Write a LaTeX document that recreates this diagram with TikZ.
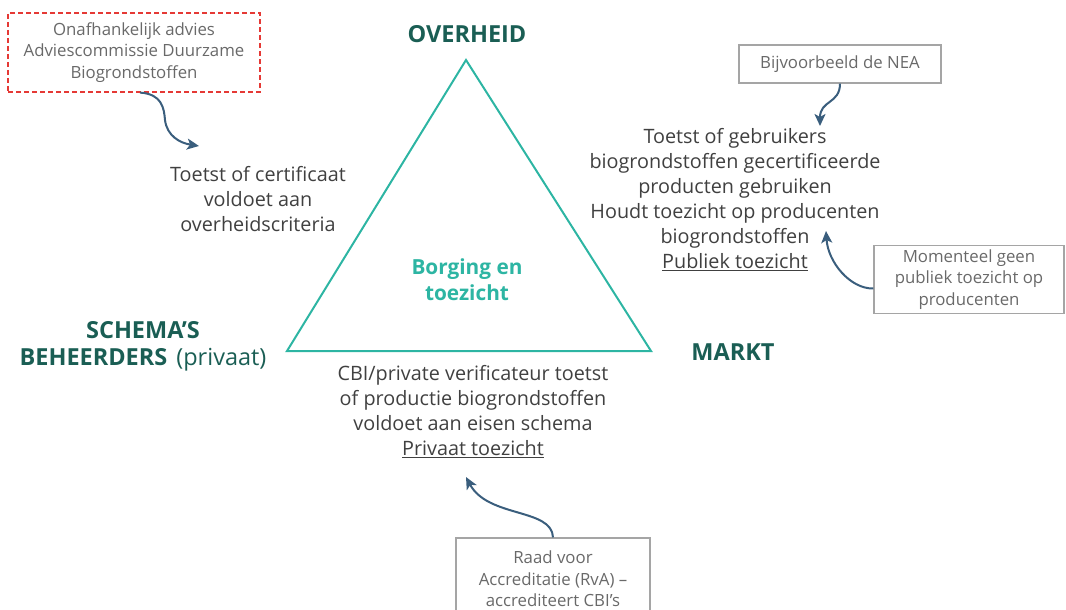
\documentclass[tikz,border=0pt]{standalone}
\usepackage{fontspec}
\setmainfont{Open Sans}
\usetikzlibrary{arrows.meta}

\definecolor{titelgroen}{RGB}{26,94,84}
\definecolor{driehoek}{RGB}{45,181,163}
\definecolor{tekstgrijs}{RGB}{64,64,64}
\definecolor{kadergrijs}{RGB}{165,165,165}
\definecolor{kadertekst}{RGB}{105,105,105}
\definecolor{pijlblauw}{RGB}{58,94,125}
\definecolor{adviesrood}{RGB}{229,57,53}

\begin{document}
\begin{tikzpicture}[x=1pt, y=-1pt, >={Stealth[length=12pt, width=11pt, inset=3pt]},
    titel/.style={text=titelgroen, font=\fontsize{23.5}{27}\selectfont\bfseries, align=center},
    uitleg/.style={text=tekstgrijs, font=\fontsize{19.8}{25}\selectfont, align=center},
    kader/.style={draw=kadergrijs, line width=1.2pt, text=kadertekst,
        font=\fontsize{16.8}{21.5}\selectfont, align=center, inner sep=4pt},
    pijl/.style={->, draw=pijlblauw, line width=2pt}]
    \useasboundingbox (0,0) rectangle (1066,610);

    % Triangle
    \coordinate (top) at (466,60);
    \coordinate (links) at (287,351);
    \coordinate (rechts) at (651,351);
    \draw[driehoek, line width=2pt, line join=miter] (top) -- (links) -- (rechts) -- cycle;

    % Corner titles
    \node[titel] (overheid) at (467,34) {OVERHEID};
    \node[titel] (schema) at (143,346) {SCHEMA’S\\BEHEERDERS\hspace{9pt}\textmd{(privaat)}};
    \node[titel] (markt) at (733,352) {MARKT};
    \node[titel, text=driehoek, font=\fontsize{20.8}{26}\selectfont\bfseries] (borging) at (467,280) {Borging en\\toezicht};

    % Explanations
    \node[uitleg] (certificaat) at (258,199) {Toetst of certificaat\\voldoet aan\\overheidscriteria};
    \node[uitleg] (gebruikers) at (735,200) {Toetst of gebruikers\\biogrondstoffen gecertificeerde\\producten gebruiken\\Houdt toezicht op producenten\\biogrondstoffen\\\underline{Publiek toezicht}};
    \node[uitleg] (productie) at (473,412) {CBI/private verificateur toetst\\of productie biogrondstoffen\\voldoet aan eisen schema\\\underline{Privaat toezicht}};

    % Boxes
    \node[kader, draw=adviesrood, dashed, dash pattern=on 5pt off 3pt, minimum width=252pt, minimum height=79pt] (advies) at (134,52.5) {Onafhankelijk advies\\Adviescommissie Duurzame\\Biogrondstoffen};
    \node[kader, minimum width=202pt, minimum height=38pt] (nea) at (840,64) {Bijvoorbeeld de NEA};
    \node[kader, minimum width=190pt, minimum height=67pt] (momenteel) at (969,279.5) {Momenteel geen\\publiek toezicht op\\producenten};
    \node[kader, minimum width=194pt, minimum height=82pt] (raad) at (553,579) {Raad voor\\Accreditatie (RvA) --\\accrediteert CBI’s};

    % Arrows
    \coordinate (adviesdoel) at (199,146);
    \coordinate (neadoel) at (820,126);
    \coordinate (momenteeldoel) at (826,231);
    \coordinate (raaddoel) at (466,477);
    \draw[pijl] ([xshift=6pt]advies.south) .. controls (162,94) and (164,108) .. (165,120)
        .. controls (167,136) and (180,143) .. (adviesdoel);
    \draw[pijl] (nea.south) .. controls (840,104) and (820,100) .. (neadoel);
    \draw[pijl] ([yshift=-9pt]momenteel.west) .. controls (850,289) and (828,262) .. (momenteeldoel);
    \draw[pijl] (raad.north) .. controls (552,508) and (488,518) .. (raaddoel);
\end{tikzpicture}
\end{document}
